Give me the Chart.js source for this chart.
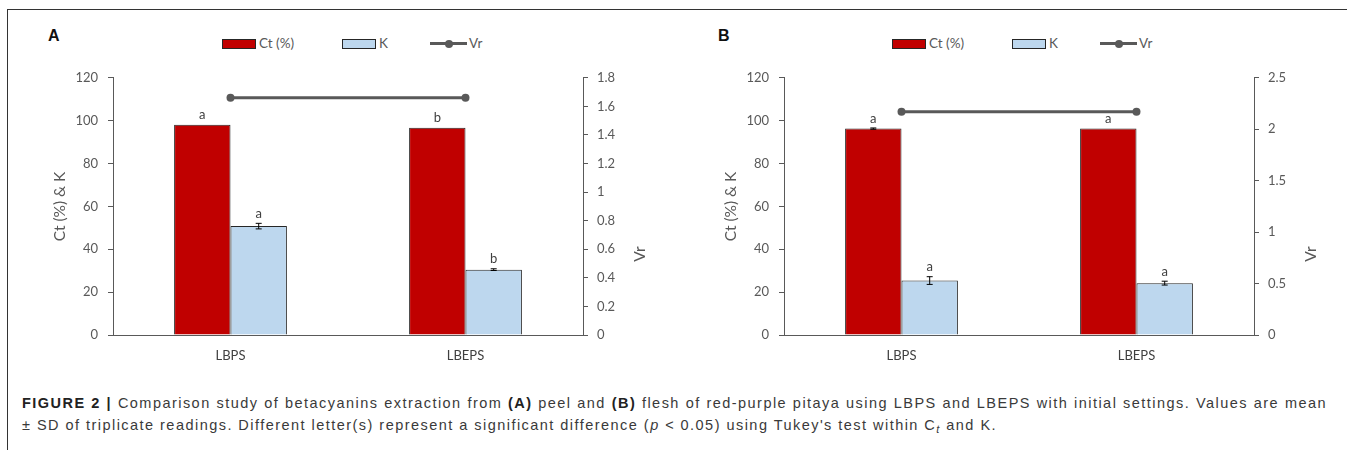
<!DOCTYPE html>
<html>
<head>
<meta charset="utf-8">
<script src="https://cdn.jsdelivr.net/npm/chart.js@4"></script>
<style>
  body { margin: 0; background: #fff; }
  #wrap { position: relative; width: 1347px; height: 450px; overflow: hidden; background: #fff; }
  #frame { position: absolute; left: 7px; top: 9px; width: 1345px; height: 445px;
           border-top: 1.5px solid #333; border-left: 1.5px solid #333; }
  canvas { position: absolute; top: 60px; }
  .panel { position: absolute; top: 28px; font: bold 16px "Liberation Sans", Arial, sans-serif; color: #111; line-height: 16px; }
  .leg { position: absolute; top: 0; font: 13.5px Lato, sans-serif; color: #595959; }
  .sw { position: absolute; top: 39px; width: 32px; height: 8px; border: 1px solid #262626; }
  .lt { position: absolute; top: 35px; line-height: 17px; white-space: nowrap; }
  .ln { position: absolute; top: 42px; height: 3px; background: #595959; }
  .dot { position: absolute; top: 40px; width: 8px; height: 8px; border-radius: 50%; background: #595959; }
  .cap { position: absolute; left: 22px; font: 14.5px "Liberation Sans", Arial, sans-serif;
         color: #3a3a3a; line-height: 22px; white-space: nowrap; }
  .cap b { color: #222; }
</style>
</head>
<body>
<div id="wrap">
  <div id="frame"></div>
  <div class="panel" style="left:48px">A</div>
  <div class="panel" style="left:718px">B</div>
  <div class="leg" id="legA"></div>
  <div class="leg" id="legB"></div>
  <canvas id="chartA" width="673" height="310" style="left:0px"></canvas>
  <canvas id="chartB" width="673" height="310" style="left:671px"></canvas>
  <div class="cap" id="cap1" style="top:392px"><b>FIGURE 2 |</b> Comparison study of betacyanins extraction from <b>(A)</b> peel and <b>(B)</b> flesh of red-purple pitaya using LBPS and LBEPS with initial settings. Values are mean</div>
  <div class="cap" id="cap2" style="top:414px">± SD of triplicate readings. Different letter(s) represent a significant difference (<i>p</i> &lt; 0.05) using Tukey's test within C<sub style="font-size:11px;vertical-align:-3px"><i>t</i></sub> and K.</div>
</div>
<script>
// categories and values
const categories = ["LBPS", "LBEPS"];
const seriesNames = ["Ct (%)", "K", "Vr"];

// panel A (peel)
const ctA = [98.1, 96.7];
const ctErrA = [0, 0];
const kA = [50.8, 30.5];
const kErrA = [1.3, 0.4];
const vrA = [1.66, 1.66];
const ctLettersA = ["a", "b"];
const kLettersA = ["a", "b"];

// panel B (flesh)
const ctB = [96.3, 96.3];
const ctErrB = [0.3, 0];
const kB = [25.4, 24.2];
const kErrB = [1.8, 0.9];
const vrB = [2.17, 2.17];
const ctLettersB = ["a", "a"];
const kLettersB = ["a", "a"];

// axis ranges
const leftMax = 120, leftStep = 20;
const rightMaxA = 1.8, rightStepA = 0.2;
const rightMaxB = 2.5, rightStepB = 0.5;

Chart.defaults.font.family = "Lato, sans-serif";
Chart.defaults.font.size = 13;
Chart.defaults.color = "#595959";

// error bars and significance letters
const annotPlugin = {
    id: "annot",
    afterDatasetsDraw(chart, args, opts) {
        const ctx = chart.ctx;
        const y = chart.scales.y;
        ctx.save();
        [0, 1].forEach(di => {
            const meta = chart.getDatasetMeta(di);
            const vals = chart.data.datasets[di].data;
            const errs = opts.errs[di];
            const lets = opts.letters[di];
            meta.data.forEach((bar, i) => {
                const top = y.getPixelForValue(vals[i] + errs[i]);
                if (errs[i] > 0) {
                    const bot = y.getPixelForValue(vals[i] - errs[i]);
                    ctx.strokeStyle = "#000";
                    ctx.lineWidth = 1;
                    ctx.beginPath();
                    ctx.moveTo(bar.x, top); ctx.lineTo(bar.x, bot);
                    ctx.moveTo(bar.x - 3, top); ctx.lineTo(bar.x + 3, top);
                    ctx.moveTo(bar.x - 3, bot); ctx.lineTo(bar.x + 3, bot);
                    ctx.stroke();
                }
                ctx.fillStyle = "#404040";
                ctx.font = "13px Lato, sans-serif";
                ctx.textAlign = "center";
                ctx.textBaseline = "bottom";
                ctx.fillText(lets[i], bar.x, top - 3);
            });
        });
        // secondary axis title, rotated like the primary one
        ctx.translate(640, 194);
        ctx.rotate(-Math.PI / 2);
        ctx.fillStyle = "#595959";
        ctx.font = "15.5px Lato, sans-serif";
        ctx.textAlign = "center";
        ctx.textBaseline = "middle";
        ctx.fillText("Vr", 0, 0);
        ctx.restore();
    }
};

const trimTick = v => String(Number(v.toFixed(2)));

function makeChart(id, ct, ctErr, k, kErr, vr, ctLet, kLet, rMax, rStep) {
    return new Chart(document.getElementById(id), {
        type: "bar",
        data: {
            labels: categories,
            datasets: [
                { label: seriesNames[0], data: ct, backgroundColor: "#C00000", borderColor: "#262626",
                  borderWidth: 1, yAxisID: "y", order: 2 },
                { label: seriesNames[1], data: k, backgroundColor: "#BDD7EE", borderColor: "#262626",
                  borderWidth: 1, yAxisID: "y", order: 2 },
                { type: "line", label: seriesNames[2], data: vr, yAxisID: "y1", borderColor: "#595959",
                  backgroundColor: "#595959", borderWidth: 3, pointRadius: 4, pointBorderWidth: 0, order: 1 }
            ]
        },
        options: {
            responsive: false,
            animation: false,
            layout: { padding: { top: 15, left: 0, right: 0, bottom: 0 } },
            categoryPercentage: 0.48,
            barPercentage: 1,
            plugins: {
                legend: { display: false },
                tooltip: { enabled: false },
                annot: { errs: [ctErr, kErr], letters: [ctLet, kLet] }
            },
            scales: {
                x: {
                    grid: { display: false, drawTicks: false },
                    border: { display: true, color: "#595959", width: 1 },
                    ticks: { padding: 13, color: "#404040" },
                    afterFit: s => { s.height = 35; }
                },
                y: {
                    position: "left",
                    min: 0, max: leftMax,
                    ticks: { stepSize: leftStep, padding: 10, callback: trimTick },
                    grid: { drawOnChartArea: false, drawTicks: true, tickLength: 5, color: "#595959" },
                    border: { display: true, color: "#595959", width: 1 },
                    title: { display: true, text: "Ct (%) & K", font: { size: 15.5 }, padding: { top: 51, bottom: 0 } },
                    afterFit: s => { s.width = 113; }
                },
                y1: {
                    position: "right",
                    min: 0, max: rMax,
                    ticks: { stepSize: rStep, padding: 9, callback: trimTick },
                    grid: { drawOnChartArea: false, drawTicks: true, tickLength: 5, color: "#595959" },
                    border: { display: true, color: "#595959", width: 1 },
                    afterFit: s => { s.width = 90; }
                }
            }
        },
        plugins: [annotPlugin]
    });
}

makeChart("chartA", ctA, ctErrA, kA, kErrA, vrA, ctLettersA, kLettersA, rightMaxA, rightStepA);
makeChart("chartB", ctB, ctErrB, kB, kErrB, vrB, ctLettersB, kLettersB, rightMaxB, rightStepB);

// legends
function buildLegend(id, dx) {
    const el = document.getElementById(id);
    el.style.left = dx + "px";
    el.innerHTML =
        '<div class="sw" style="left:222px;background:#C00000"></div>' +
        '<div class="lt" style="left:259px">' + seriesNames[0] + '</div>' +
        '<div class="sw" style="left:342px;background:#BDD7EE"></div>' +
        '<div class="lt" style="left:379px">' + seriesNames[1] + '</div>' +
        '<div class="ln" style="left:430px;width:37px"></div>' +
        '<div class="dot" style="left:445px"></div>' +
        '<div class="lt" style="left:469px">' + seriesNames[2] + '</div>';
}
buildLegend("legA", 0);
buildLegend("legB", 670);

// caption: letter spacing from the second (ragged) line, then justify the first line
const c1 = document.getElementById("cap1"), c2 = document.getElementById("cap2");
const w2 = c2.getBoundingClientRect().width;
const ls = Math.max(0, (975 - w2) / c2.textContent.length);
c1.style.letterSpacing = ls + "px";
c2.style.letterSpacing = ls + "px";
const w1 = c1.getBoundingClientRect().width;
const gaps = c1.textContent.split(" ").length - 1;
c1.style.wordSpacing = ((1305 - w1) / gaps) + "px";
</script>
</body>
</html>
